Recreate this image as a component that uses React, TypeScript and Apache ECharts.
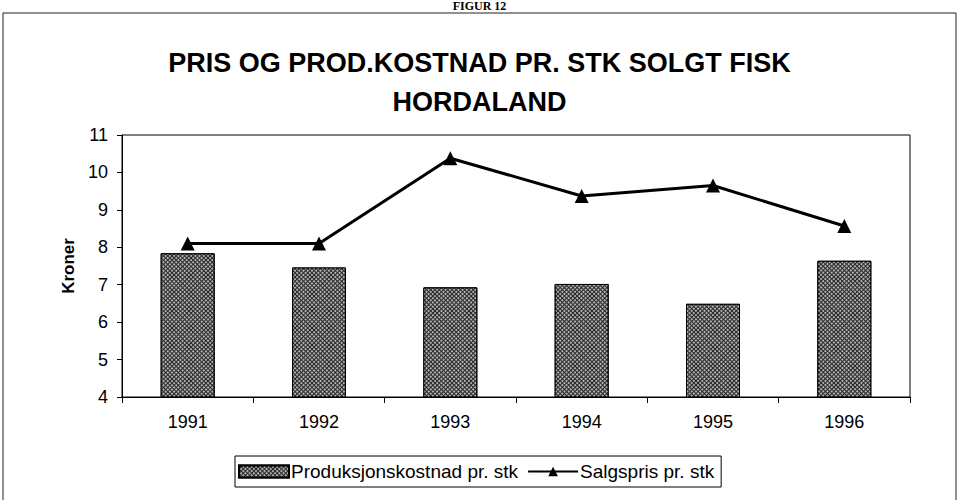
import React, { useEffect, useRef } from "react";
import * as echarts from "echarts";

const years = ["1991", "1992", "1993", "1994", "1995", "1996"];
const produksjonskostnad = [7.84, 7.46, 6.93, 7.02, 6.49, 7.64];
const salgspris = [8.1, 8.1, 10.38, 9.37, 9.65, 8.57];
const titleLines = ["PRIS OG PROD.KOSTNAD PR. STK SOLGT FISK", "HORDALAND"];
const figureLabel = "FIGUR 12";
const yAxisName = "Kroner";
const seriesNames = ["Produksjonskostnad pr. stk", "Salgspris pr. stk"];

const FONT = "'Liberation Sans', Arial, sans-serif";

export default function App() {
  const ref = useRef<HTMLDivElement>(null);
  useEffect(() => {
    if (!ref.current) return;
    const chart = echarts.init(ref.current, undefined, { renderer: "svg" });
    chart.setOption({
      animation: false,
      backgroundColor: "#ffffff",
      textStyle: { fontFamily: FONT, color: "#000" },
      title: {
        text: titleLines.join("\n"),
        left: "center",
        top: 38,
        textStyle: {
          fontFamily: FONT,
          fontSize: 27,
          fontWeight: "bold",
          color: "#000",
          lineHeight: 39,
        },
      },
      graphic: [
        {
          type: "rect",
          shape: { x: 3, y: 13, width: 953, height: 500 },
          style: { fill: "none", stroke: "#222", lineWidth: 1 },
          silent: true,
        },
        {
          type: "text",
          left: "center",
          top: 0,
          style: {
            text: figureLabel,
            font: "bold 12px 'Liberation Serif', serif",
            fill: "#000",
          },
          silent: true,
        },
      ],
      legend: {
        left: 235,
        top: 456,
        orient: "horizontal",
        padding: [6, 7, 6, 3],
        itemGap: 9,
        itemWidth: 50,
        itemHeight: 12,
        borderColor: "#000",
        borderWidth: 1,
        borderRadius: 0,
        textStyle: { fontFamily: FONT, fontSize: 19, color: "#000", padding: [0, 0, 0, -3] },
        data: [
          { name: seriesNames[0], icon: "rect" },
          { name: seriesNames[1] },
        ],
      },
      grid: {
        left: 122,
        right: 49,
        top: 135,
        bottom: 103,
        show: true,
        borderColor: "#000",
        borderWidth: 1,
        backgroundColor: "transparent",
      },
      xAxis: {
        type: "category",
        data: years,
        boundaryGap: true,
        axisLine: { lineStyle: { color: "#000", width: 1 } },
        axisTick: { show: true, length: 6, interval: 0, lineStyle: { color: "#000" } },
        axisLabel: { fontFamily: FONT, fontSize: 18, color: "#000", margin: 16 },
        splitLine: { show: false },
      },
      yAxis: {
        type: "value",
        min: 4,
        max: 11,
        interval: 1,
        name: yAxisName,
        nameLocation: "middle",
        nameRotate: 90,
        nameGap: 42,
        nameTextStyle: { fontFamily: FONT, fontSize: 17, fontWeight: "bold", color: "#000" },
        axisLine: { show: true, lineStyle: { color: "#000", width: 1 } },
        axisTick: { show: true, length: 5, lineStyle: { color: "#000" } },
        axisLabel: { fontFamily: FONT, fontSize: 18, color: "#000", margin: 14 },
        splitLine: { show: false },
      },
      series: [
        {
          name: seriesNames[0],
          type: "bar",
          data: produksjonskostnad,
          barWidth: 54,
          itemStyle: {
            color: "#262626",
            borderColor: "#000",
            borderWidth: 1,
            decal: {
              symbol: "circle",
              symbolSize: 0.8,
              color: "#ffffff",
              dashArrayX: [2, 1],
              dashArrayY: [2, 1],
              rotation: 0.785,
            },
          },
        },
        {
          name: seriesNames[1],
          type: "line",
          data: salgspris,
          symbol: "triangle",
          symbolSize: 14,
          lineStyle: { color: "#000", width: 3 },
          itemStyle: { color: "#000" },
        },
      ],
    });
    return () => chart.dispose();
  }, []);
  return (
    <div
      ref={ref}
      style={{ position: "fixed", left: 0, top: 0, width: 959, height: 500 }}
    />
  );
}
